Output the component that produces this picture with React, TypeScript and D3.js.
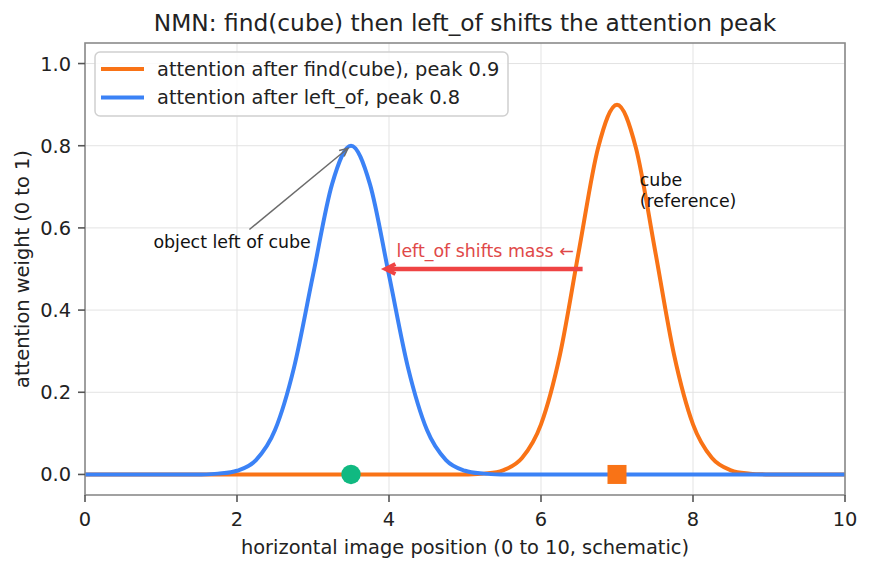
import * as d3 from "d3";

// sample positions along the image axis
const positions = [
  0, 0.25, 0.5, 0.75, 1, 1.25, 1.5, 1.75, 2, 2.25, 2.5, 2.75, 3, 3.25, 3.5, 3.75, 4, 4.25, 4.5, 4.75,
  5, 5.25, 5.5, 5.75, 6, 6.25, 6.5, 6.75, 7, 7.25, 7.5, 7.75, 8, 8.25, 8.5, 8.75, 9, 9.25, 9.5, 9.75, 10,
];

const findCube = [
  0, 0, 0, 0, 0, 0, 0, 0, 0, 0, 0, 0, 0, 0, 0, 0, 0, 0, 0, 0,
  0, 0.002, 0.01, 0.04, 0.122, 0.292, 0.546, 0.794, 0.9, 0.794, 0.546, 0.292, 0.122, 0.04, 0.01, 0.002,
  0, 0, 0, 0, 0,
];

const leftOf = [
  0, 0, 0, 0, 0, 0, 0, 0.002, 0.009, 0.035, 0.108, 0.26, 0.485, 0.706, 0.8, 0.706, 0.485, 0.26, 0.108, 0.035,
  0.009, 0.002, 0, 0, 0, 0, 0, 0, 0, 0, 0, 0, 0, 0, 0, 0, 0, 0, 0, 0, 0,
];

const seriesNames = [
  "attention after find(cube), peak 0.9",
  "attention after left_of, peak 0.8",
];
const seriesColors = ["#f97316", "#3b82f6"];

const xTicks = [0, 2, 4, 6, 8, 10];
const yTicks = [0, 0.2, 0.4, 0.6, 0.8, 1.0];

const objectPos = 3.5;
const cubePos = 7;

const W = 871;
const H = 569;
const plot = { left: 85, right: 845, top: 43, bottom: 495 };
const font = "DejaVu Sans, sans-serif";

export default function App() {
  const x = d3.scaleLinear().domain([0, 10]).range([plot.left, plot.right]);
  const y = d3.scaleLinear().domain([-0.05, 1.05]).range([plot.bottom, plot.top]);

  const line = d3
    .line<number>()
    .x((_, i) => x(positions[i]))
    .y((d) => y(d))
    .curve(d3.curveCardinal.tension(0));

  // grey annotation arrow: from the label's box toward the blue peak
  const labelX = x(0.9);
  const labelY = y(0.55);
  const labelW = 158;
  const cx = labelX + labelW / 2;
  const cy = labelY - 5;
  const tipX = x(objectPos);
  const tipY = y(0.8);
  const boxTop = labelY - 19;
  const t = (cy - boxTop) / (cy - tipY);
  const sx = cx + t * (tipX - cx);
  const sy = boxTop;
  const ang = Math.atan2(tipY - sy, tipX - sx);
  const ex = tipX - 4 * Math.cos(ang);
  const ey = tipY - 4 * Math.sin(ang);
  const head = (a: number) => [ex - 9 * Math.cos(ang + a), ey - 9 * Math.sin(ang + a)];
  const h1 = head(0.45);
  const h2 = head(-0.45);

  // red shift arrow
  const rY = y(0.5);
  const rStart = x(6.6) - 4;
  const rTip = x(3.9) + 4;

  return (
    <svg
      width={W}
      height={H}
      style={{ position: "absolute", left: 0, top: 0, background: "#fff" }}
      fontFamily={font}
    >
      {/* grid */}
      <g stroke="#e3e3e3" strokeWidth={1}>
        {xTicks.map((v) => (
          <line key={"gx" + v} x1={x(v)} x2={x(v)} y1={plot.top} y2={plot.bottom} />
        ))}
        {yTicks.map((v) => (
          <line key={"gy" + v} x1={plot.left} x2={plot.right} y1={y(v)} y2={y(v)} />
        ))}
      </g>

      {/* curves */}
      <path d={line(findCube) ?? ""} fill="none" stroke={seriesColors[0]} strokeWidth={4} strokeLinejoin="round" />
      <path d={line(leftOf) ?? ""} fill="none" stroke={seriesColors[1]} strokeWidth={4} strokeLinejoin="round" />

      {/* markers */}
      <circle cx={x(objectPos)} cy={y(0)} r={9.7} fill="#10b981" />
      <rect x={x(cubePos) - 9.5} y={y(0) - 9.5} width={19} height={19} fill="#f97316" />

      {/* annotations */}
      <line x1={sx} y1={sy} x2={ex} y2={ey} stroke="#6b6b6b" strokeWidth={1.5} />
      <polyline
        points={`${h1[0]},${h1[1]} ${ex},${ey} ${h2[0]},${h2[1]}`}
        fill="none"
        stroke="#6b6b6b"
        strokeWidth={1.5}
      />
      <text x={labelX} y={labelY} fontSize={17.4} fill="#111">
        object left of cube
      </text>

      <line x1={rStart} x2={rTip + 2} y1={rY} y2={rY} stroke="#ef4444" strokeWidth={4.5} />
      <polyline
        points={`${rTip + 10},${rY - 5} ${rTip},${rY} ${rTip + 10},${rY + 5}`}
        fill="none"
        stroke="#ef4444"
        strokeWidth={4}
        strokeLinejoin="miter"
      />
      <text x={x(4.1)} y={y(0.53)} fontSize={17.4} fill="#e04848">
        left_of shifts mass ←
      </text>

      <text x={x(7.3)} y={y(0.65) - 21} fontSize={17.4} fill="#111">
        cube
      </text>
      <text x={x(7.3)} y={y(0.65)} fontSize={17.4} fill="#111">
        (reference)
      </text>

      {/* frame */}
      <rect
        x={plot.left}
        y={plot.top}
        width={plot.right - plot.left}
        height={plot.bottom - plot.top}
        fill="none"
        stroke="#8a8a8a"
        strokeWidth={1.6}
      />

      {/* x axis */}
      {xTicks.map((v) => (
        <g key={"xt" + v}>
          <line x1={x(v)} x2={x(v)} y1={plot.bottom} y2={plot.bottom + 7} stroke="#555" strokeWidth={1.6} />
          <text x={x(v)} y={plot.bottom + 31} textAnchor="middle" fontSize={19.4} fill="#222">
            {d3.format("d")(v)}
          </text>
        </g>
      ))}
      <text x={(plot.left + plot.right) / 2} y={554} textAnchor="middle" fontSize={19.4} fill="#222">
        horizontal image position (0 to 10, schematic)
      </text>

      {/* y axis */}
      {yTicks.map((v) => (
        <g key={"yt" + v}>
          <line x1={plot.left - 7} x2={plot.left} y1={y(v)} y2={y(v)} stroke="#555" strokeWidth={1.6} />
          <text x={plot.left - 14} y={y(v)} dy="0.36em" textAnchor="end" fontSize={19.4} fill="#222">
            {d3.format(".1f")(v)}
          </text>
        </g>
      ))}
      <text
        transform={`translate(29,${(plot.top + plot.bottom) / 2}) rotate(-90)`}
        textAnchor="middle"
        fontSize={19.4}
        fill="#222"
      >
        attention weight (0 to 1)
      </text>

      {/* title */}
      <text x={(plot.left + plot.right) / 2} y={31} textAnchor="middle" fontSize={23.3} fill="#222">
        NMN: find(cube) then left_of shifts the attention peak
      </text>

      {/* legend */}
      <rect x={95} y={52} width={413} height={64} rx={5} fill="#fff" fillOpacity={0.85} stroke="#d0d0d0" strokeWidth={1.5} />
      {seriesNames.map((name, i) => {
        const ly = 69 + i * 28.5;
        return (
          <g key={name}>
            <line x1={101} x2={144} y1={ly} y2={ly} stroke={seriesColors[i]} strokeWidth={4} />
            <text x={157} y={ly} dy="0.36em" fontSize={19.4} fill="#222">
              {name}
            </text>
          </g>
        );
      })}
    </svg>
  );
}
